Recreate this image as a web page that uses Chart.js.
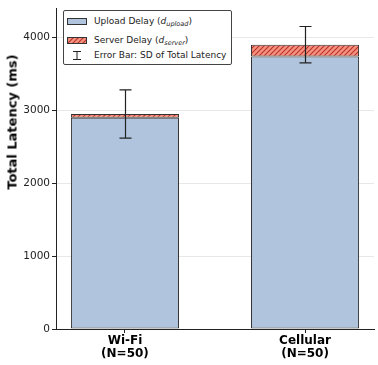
<!DOCTYPE html>
<html>
<head>
<meta charset="utf-8">
<script src="https://cdn.jsdelivr.net/npm/chart.js@4/dist/chart.umd.min.js"></script>
<style>
  body { margin: 0; background: #fff; }
  #wrap { position: relative; width: 378px; height: 365px; }
  #ytitle {
    position: absolute; left: 12px; top: 122px; white-space: nowrap;
    transform: translate(-50%, -50%) rotate(-90deg);
    font-family: "DejaVu Sans", sans-serif; font-size: 13px; font-weight: bold; color: #000;
  }
  #legend {
    position: absolute; left: 63px; top: 10px; width: 167px; height: 53px;
    border: 1px solid #444; border-radius: 2px; background: #fff;
    font-family: "DejaVu Sans", sans-serif; font-size: 9px; color: #222;
  }
  .row { position: absolute; left: 0; height: 14px; line-height: 14px; width: 167px; }
  .row span.txt { position: absolute; left: 30px; white-space: nowrap; }
  .sw { position: absolute; left: 3px; top: 4px; width: 18px; height: 5px; border: 1px solid #333; }
  .m { font-style: italic; }
  .m sub { font-size: 6.5px; vertical-align: -2px; line-height: 0; }
</style>
</head>
<body>
<div id="wrap">
  <canvas id="chart" width="378" height="365"></canvas>
  <div id="ytitle">Total Latency (ms)</div>
  <div id="legend">
    <div class="row" style="top:3px"><div class="sw" style="background:#b0c4de"></div><span class="txt">Upload Delay (<span class="m">d<sub>upload</sub></span>)</span></div>
    <div class="row" style="top:22px"><div class="sw" id="hatchSw"></div><span class="txt">Server Delay (<span class="m">d<sub>server</sub></span>)</span></div>
    <div class="row" style="top:37px">
      <svg style="position:absolute;left:7px;top:3px" width="12" height="9">
        <line x1="6" y1="0.5" x2="6" y2="8.5" stroke="#222" stroke-width="1"/>
        <line x1="2" y1="0.5" x2="10" y2="0.5" stroke="#222" stroke-width="1"/>
        <line x1="2" y1="8.5" x2="10" y2="8.5" stroke="#222" stroke-width="1"/>
      </svg>
      <span class="txt">Error Bar: SD of Total Latency</span>
    </div>
  </div>
</div>
<script>
// data
const categories = [["Wi-Fi", "(N=50)"], ["Cellular", "(N=50)"]];
const uploadDelay = [2900, 3740];
const serverDelay = [50, 160];
const totalSD = [330, 250];
const yTicks = [0, 1000, 2000, 3000, 4000];

function makeHatch() {
    const c = document.createElement("canvas");
    c.width = 5; c.height = 5;
    const g = c.getContext("2d");
    g.fillStyle = "#f4917f";
    g.fillRect(0, 0, 5, 5);
    g.strokeStyle = "#b8322a";
    g.lineWidth = 1.1;
    g.beginPath();
    g.moveTo(-1, 6); g.lineTo(6, -1);
    g.moveTo(-1, 1); g.lineTo(1, -1);
    g.moveTo(4, 6); g.lineTo(6, 4);
    g.stroke();
    return c;
}
const hatchCanvas = makeHatch();
const ctx = document.getElementById("chart").getContext("2d");
const hatch = ctx.createPattern(hatchCanvas, "repeat");
document.getElementById("hatchSw").style.background = "url(" + hatchCanvas.toDataURL() + ")";

// error bars on top of the stacked total
const errorBars = {
    id: "errorBars",
    afterDatasetsDraw(chart) {
        const xs = chart.scales.x, ys = chart.scales.y;
        const c = chart.ctx;
        c.save();
        c.strokeStyle = "#222";
        c.lineWidth = 1.2;
        uploadDelay.forEach((u, i) => {
            const total = u + serverDelay[i];
            const x = Math.round(xs.getPixelForValue(i)) + 0.5;
            const top = ys.getPixelForValue(total + totalSD[i]);
            const bot = ys.getPixelForValue(total - totalSD[i]);
            c.beginPath();
            c.moveTo(x, top); c.lineTo(x, bot);
            c.moveTo(x - 6, top); c.lineTo(x + 6, top);
            c.moveTo(x - 6, bot); c.lineTo(x + 6, bot);
            c.stroke();
        });
        c.restore();
    }
};

new Chart(ctx, {
    type: "bar",
    data: {
        datasets: [{
            label: "Upload Delay",
            data: uploadDelay.map((v, i) => ({ x: i, y: v })),
            backgroundColor: "#b0c4de",
            borderColor: "#333",
            borderWidth: 1,
            borderSkipped: false
        }, {
            label: "Server Delay",
            data: serverDelay.map((v, i) => ({ x: i, y: v })),
            backgroundColor: hatch,
            borderColor: "#333",
            borderWidth: 1,
            borderSkipped: false
        }]
    },
    options: {
        responsive: false,
        animation: false,
        categoryPercentage: 0.6,
        barPercentage: 1,
        layout: { padding: { top: 0, right: 4, left: 0, bottom: 0 } },
        plugins: { legend: { display: false }, tooltip: { enabled: false } },
        scales: {
            x: {
                type: "linear",
                stacked: true,
                offset: false,
                min: -0.383,
                max: 1.383,
                afterBuildTicks: (s) => { s.ticks = categories.map((_, i) => ({ value: i })); },
                afterFit: (s) => { s.height = 36; },
                grid: { display: true, offset: false, drawOnChartArea: false, tickLength: 4, tickColor: "#222" },
                border: { color: "#222", width: 1 },
                ticks: {
                    callback: (v) => categories[v],
                    color: "#000",
                    padding: 1,
                    maxRotation: 0,
                    autoSkip: false,
                    font: { family: "DejaVu Sans", size: 12, weight: "bold", lineHeight: 1.1 }
                }
            },
            y: {
                stacked: true,
                min: 0,
                max: 4400,
                afterBuildTicks: (s) => { s.ticks = yTicks.map(v => ({ value: v })); },
                afterFit: (s) => { s.width = 56; },
                grid: { color: "#e8e8e8", tickColor: "#222", tickLength: 4, borderDash: [2, 2] },
                border: { color: "#222", width: 1 },
                ticks: {
                    color: "#222",
                    padding: 2,
                    callback: (v) => String(v),
                    font: { family: "DejaVu Sans", size: 10.5 }
                }
            }
        }
    },
    plugins: [errorBars]
});
</script>
</body>
</html>
